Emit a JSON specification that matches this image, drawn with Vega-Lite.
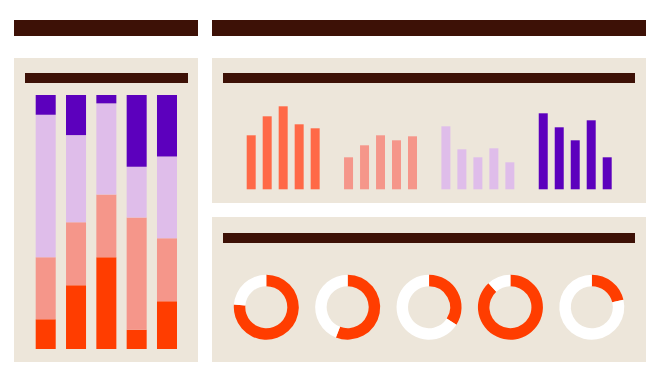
{
  "$schema": "https://vega.github.io/schema/vega-lite/v6.json",
  "background": "#ffffff",
  "padding": {"left": 14, "top": 20, "right": 0, "bottom": 0},
  "config": {"view": {"stroke": null}},
  "spacing": 22,
  "resolve": {"scale": {"color": "independent"}},
  "vconcat": [
    {
      "spacing": 14,
      "hconcat": [
        {
          "width": 184,
          "height": 16,
          "data": {"values": [{"title": "Dashboard", "length": 1}]},
          "mark": {"type": "bar", "color": "#3D1106"},
          "encoding": {
            "x": {"field": "length", "type": "quantitative", "axis": null, "scale": {"domain": [0, 1], "nice": false}},
            "y": {"field": "title", "type": "nominal", "axis": null, "scale": {"paddingInner": 0, "paddingOuter": 0}}
          }
        },
        {
          "width": 434,
          "height": 16,
          "data": {"values": [{"title": "Overview", "length": 1}]},
          "mark": {"type": "bar", "color": "#3D1106"},
          "encoding": {
            "x": {"field": "length", "type": "quantitative", "axis": null, "scale": {"domain": [0, 1], "nice": false}},
            "y": {"field": "title", "type": "nominal", "axis": null, "scale": {"paddingInner": 0, "paddingOuter": 0}}
          }
        }
      ]
    },
    {
      "spacing": 14,
      "resolve": {"scale": {"color": "independent"}},
      "hconcat": [
        {
          "width": 184,
          "height": 304,
          "view": {"fill": "#EDE6DA", "stroke": null},
          "resolve": {"scale": {"x": "independent", "y": "independent"}},
          "layer": [
            {
              "data": {"values": [{"title": "Composition", "length": 1}]},
              "mark": {"type": "bar", "color": "#3D1106"},
              "encoding": {
                "x": {"field": "length", "type": "quantitative", "axis": null, "scale": {"domain": [0, 1], "nice": false, "range": [11, 174]}},
                "y": {"field": "title", "type": "nominal", "axis": null, "scale": {"paddingInner": 0, "paddingOuter": 0, "range": [15, 25]}}
              }
            },
            {
              "data": {"values": [
                {"bar": "B1", "series": "S1", "share": 11.7},
                {"bar": "B1", "series": "S2", "share": 24.4},
                {"bar": "B1", "series": "S3", "share": 56.1},
                {"bar": "B1", "series": "S4", "share": 7.8},
                {"bar": "B2", "series": "S1", "share": 25.1},
                {"bar": "B2", "series": "S2", "share": 24.8},
                {"bar": "B2", "series": "S3", "share": 34.3},
                {"bar": "B2", "series": "S4", "share": 15.8},
                {"bar": "B3", "series": "S1", "share": 36.1},
                {"bar": "B3", "series": "S2", "share": 24.7},
                {"bar": "B3", "series": "S3", "share": 35.9},
                {"bar": "B3", "series": "S4", "share": 3.3},
                {"bar": "B4", "series": "S1", "share": 7.6},
                {"bar": "B4", "series": "S2", "share": 44.2},
                {"bar": "B4", "series": "S3", "share": 20.0},
                {"bar": "B4", "series": "S4", "share": 28.2},
                {"bar": "B5", "series": "S1", "share": 18.8},
                {"bar": "B5", "series": "S2", "share": 24.8},
                {"bar": "B5", "series": "S3", "share": 32.2},
                {"bar": "B5", "series": "S4", "share": 24.2}
              ]},
              "mark": {"type": "bar"},
              "encoding": {
                "x": {"field": "bar", "type": "nominal", "axis": null, "scale": {"range": [21.7, 163], "paddingInner": 0.34, "paddingOuter": 0}},
                "y": {"field": "share", "type": "quantitative", "stack": "zero", "axis": null, "scale": {"domain": [0, 100], "nice": false, "range": [291, 37]}},
                "color": {"field": "series", "type": "nominal", "legend": null, "scale": {"domain": ["S1", "S2", "S3", "S4"], "range": ["#FF3D00", "#F5968A", "#DFBDEA", "#5C00BD"]}},
                "order": {"field": "series", "sort": "ascending"}
              }
            }
          ]
        },
        {
          "spacing": 14,
          "resolve": {"scale": {"color": "independent"}},
          "vconcat": [
            {
              "width": 434,
              "height": 145,
              "view": {"fill": "#EDE6DA", "stroke": null},
              "resolve": {"scale": {"x": "independent", "y": "independent"}},
              "layer": [
                {
                  "data": {"values": [{"title": "Trends", "length": 1}]},
                  "mark": {"type": "bar", "color": "#3D1106"},
                  "encoding": {
                    "x": {"field": "length", "type": "quantitative", "axis": null, "scale": {"domain": [0, 1], "nice": false, "range": [11, 423]}},
                    "y": {"field": "title", "type": "nominal", "axis": null, "scale": {"paddingInner": 0, "paddingOuter": 0, "range": [15, 25]}}
                  }
                },
                {
                  "data": {"values": [
                    {"group": "G1", "item": "a", "value": 54},
                    {"group": "G1", "item": "b", "value": 73},
                    {"group": "G1", "item": "c", "value": 83},
                    {"group": "G1", "item": "d", "value": 65},
                    {"group": "G1", "item": "e", "value": 61},
                    {"group": "G2", "item": "a", "value": 32},
                    {"group": "G2", "item": "b", "value": 44},
                    {"group": "G2", "item": "c", "value": 54},
                    {"group": "G2", "item": "d", "value": 49},
                    {"group": "G2", "item": "e", "value": 53},
                    {"group": "G3", "item": "a", "value": 63},
                    {"group": "G3", "item": "b", "value": 40},
                    {"group": "G3", "item": "c", "value": 32},
                    {"group": "G3", "item": "d", "value": 41},
                    {"group": "G3", "item": "e", "value": 27},
                    {"group": "G4", "item": "a", "value": 76},
                    {"group": "G4", "item": "b", "value": 62},
                    {"group": "G4", "item": "c", "value": 49},
                    {"group": "G4", "item": "d", "value": 69},
                    {"group": "G4", "item": "e", "value": 32}
                  ]},
                  "mark": {"type": "bar"},
                  "encoding": {
                    "x": {"field": "group", "type": "nominal", "axis": null, "scale": {"range": [34.7, 399.7], "paddingInner": 0.2505, "paddingOuter": 0}},
                    "xOffset": {"field": "item", "type": "nominal", "scale": {"paddingInner": 0.4375, "paddingOuter": 0}},
                    "y": {"field": "value", "type": "quantitative", "axis": null, "scale": {"domain": [0, 100], "nice": false, "range": [131.3, 31.3]}},
                    "color": {"field": "group", "type": "nominal", "legend": null, "scale": {"domain": ["G1", "G2", "G3", "G4"], "range": ["#FF6947", "#F5968A", "#DFBDEA", "#5C00BD"]}}
                  }
                }
              ]
            },
            {
              "width": 434,
              "height": 145,
              "view": {"fill": "#EDE6DA", "stroke": null},
              "resolve": {"scale": {"x": "independent", "y": "independent"}},
              "layer": [
                {
                  "data": {"values": [{"title": "Progress", "length": 1}]},
                  "mark": {"type": "bar", "color": "#3D1106"},
                  "encoding": {
                    "x": {"field": "length", "type": "quantitative", "axis": null, "scale": {"domain": [0, 1], "nice": false, "range": [11, 423]}},
                    "y": {"field": "title", "type": "nominal", "axis": null, "scale": {"paddingInner": 0, "paddingOuter": 0, "range": [16, 26]}}
                  }
                },
                {
                  "data": {"values": [
                    {"chart": "D1", "part": "Done", "fraction": 0.763},
                    {"chart": "D1", "part": "Remaining", "fraction": 0.237},
                    {"chart": "D2", "part": "Done", "fraction": 0.559},
                    {"chart": "D2", "part": "Remaining", "fraction": 0.441},
                    {"chart": "D3", "part": "Done", "fraction": 0.341},
                    {"chart": "D3", "part": "Remaining", "fraction": 0.659},
                    {"chart": "D4", "part": "Done", "fraction": 0.882},
                    {"chart": "D4", "part": "Remaining", "fraction": 0.118},
                    {"chart": "D5", "part": "Done", "fraction": 0.213},
                    {"chart": "D5", "part": "Remaining", "fraction": 0.787}
                  ]},
                  "transform": [
                    {"stack": "fraction", "groupby": ["chart"], "sort": [{"field": "part", "order": "ascending"}], "as": ["f0", "f1"]}
                  ],
                  "mark": {"type": "arc", "outerRadius": 32.5, "innerRadius": 21},
                  "encoding": {
                    "x": {"field": "chart", "type": "nominal", "axis": null, "scale": {"type": "point", "range": [54.3, 379.8], "padding": 0}},
                    "y": {"datum": "ring", "type": "nominal", "axis": null, "scale": {"type": "point", "range": [70, 110.4], "padding": 0.5}},
                    "theta": {"field": "f0", "type": "quantitative", "stack": null, "scale": {"domain": [0, 1], "nice": false, "zero": false}},
                    "theta2": {"field": "f1"},
                    "color": {"field": "part", "type": "nominal", "legend": null, "scale": {"domain": ["Done", "Remaining"], "range": ["#FF3D00", "#FFFFFF"]}}
                  }
                }
              ]
            }
          ]
        }
      ]
    }
  ]
}
